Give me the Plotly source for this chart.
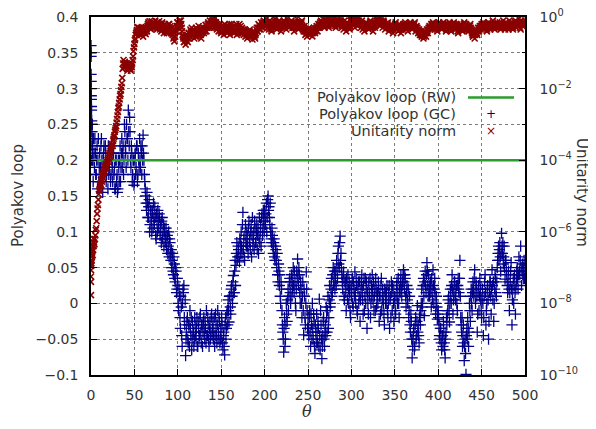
import numpy as np
import plotly.graph_objects as go

# ---------------- data ----------------
series_names = ["Polyakov loop (RW)", "Polyakov loop (GC)", "Unitarity norm"]

# Polyakov loop, RW (constant reference)
theta_rw = [0, 500]
polyakov_rw = [0.2, 0.2]

# Polyakov loop, GC: early transient near theta = 0
theta_gc_start = [0, 0, 0.1, 0.1, 0.2, 0.2, 0.3, 0.4, 0.5, 0.6, 0.8, 1.0, 1.2, 1.5, 1.8, 2.2]
polyakov_gc_start = [0.36, 0.35, 0.345, 0.32, 0.31, 0.30, 0.29, 0.285, 0.275, 0.27, 0.255,
                     0.25, 0.24, 0.23, 0.215, 0.2]

# Polyakov loop, GC: samples at integer theta, 0..500
theta_gc_a = list(range(0, 501))
polyakov_gc_a = [
    0.24, 0.22, 0.2, 0.23, 0.19, 0.21, 0.18, 0.22, 0.2, 0.17,
    0.21, 0.19, 0.23, 0.18, 0.2, 0.22, 0.19, 0.21, 0.18, 0.2,
    0.22, 0.19, 0.21, 0.18, 0.2, 0.17, 0.21, 0.19, 0.16, 0.2,
    0.18, 0.16, 0.19, 0.2, 0.17, 0.21, 0.19, 0.22, 0.2, 0.24,
    0.21, 0.25, 0.23, 0.27, 0.22, 0.24, 0.19, 0.21, 0.18, 0.2,
    0.17, 0.21, 0.19, 0.22, 0.18, 0.2, 0.23, 0.19, 0.21, 0.22,
    0.235, 0.2, 0.17, 0.15, 0.13, 0.14, 0.12, 0.145, 0.11, 0.13,
    0.1, 0.125, 0.14, 0.11, 0.12, 0.09, 0.115, 0.13, 0.105, 0.12,
    0.11, 0.085, 0.12, 0.1, 0.08, 0.105, 0.09, 0.075, 0.095, 0.08,
    0.065, 0.085, 0.06, 0.05, 0.07, 0.04, 0.055, 0.03, 0.045, 0.02,
    0.025, -0.01, 0.01, -0.035, -0.005, -0.06, 0.02, 0.025, -0.03, -0.073,
    -0.04, -0.02, -0.055, -0.03, -0.01, -0.045, -0.065, -0.025, -0.04, -0.05,
    -0.03, -0.05, -0.02, -0.06, -0.035, -0.045, -0.015, -0.055, -0.03, -0.04,
    -0.02, -0.05, -0.035, -0.01, -0.045, -0.03, -0.06, -0.025, -0.04, -0.015,
    -0.035, -0.05, -0.02, -0.045, -0.03, -0.055, -0.01, -0.04, -0.025, -0.05,
    -0.05, -0.03, -0.065, -0.04, -0.072, -0.02, -0.035, -0.01, 0.005, -0.026,
    0.01, -0.015, 0.025, 0.0, 0.039, 0.015, 0.06, 0.053, 0.085, 0.065,
    0.075, 0.058, 0.085, 0.1, 0.07, 0.127, 0.09, 0.06, 0.11, 0.08,
    0.095, 0.07, 0.115, 0.085, 0.1, 0.065, 0.12, 0.09, 0.075, 0.105,
    0.085, 0.11, 0.095, 0.07, 0.12, 0.1, 0.08, 0.125, 0.105, 0.115,
    0.13, 0.11, 0.14, 0.12, 0.15, 0.135, 0.11, 0.1, 0.085, 0.095,
    0.07, 0.09, 0.06, 0.075, 0.05, 0.04, 0.055, 0.025, 0.01, 0.03,
    -0.01, -0.04, -0.068, -0.02, -0.05, 0.0, -0.025, 0.02, 0.01, 0.035,
    0.0, 0.04, 0.02, 0.05, 0.015, 0.03, -0.01, 0.045, 0.062, 0.025,
    0.04, 0.0, 0.02, -0.02, 0.03, -0.044, 0.01, -0.03, 0.044, -0.01,
    -0.02, -0.045, -0.01, -0.06, -0.03, 0.0, -0.05, -0.025, -0.07, -0.04,
    -0.015, -0.055, -0.035, 0.006, -0.065, -0.03, -0.077, -0.045, -0.02, -0.06,
    -0.03, -0.005, -0.04, 0.01, -0.02, 0.025, 0.0, 0.035, 0.015, 0.05,
    0.03, 0.02, 0.045, 0.06, 0.035, 0.08, 0.05, 0.094, 0.07, 0.04,
    0.02, 0.044, 0.005, 0.03, -0.01, 0.025, 0.04, 0.0, 0.015, -0.02,
    0.01, 0.035, -0.005, 0.02, 0.044, 0.0, 0.025, -0.015, 0.03, 0.01,
    -0.025, 0.015, 0.04, 0.005, 0.025, -0.01, 0.035, 0.02, -0.035, 0.0,
    0.03, 0.01, -0.02, 0.025, 0.04, 0.005, -0.01, 0.02, 0.035, -0.005,
    0.015, 0.03, -0.025, 0.01, 0.025, -0.01, 0.02, 0.0, -0.03, 0.015,
    0.0, 0.025, -0.02, 0.015, -0.035, 0.01, 0.03, -0.01, 0.02, -0.025,
    0.005, -0.015, 0.025, 0.0, 0.035, -0.02, 0.015, 0.04, 0.01, 0.03,
    0.047, 0.02, 0.035, -0.005, 0.025, 0.0, -0.02, 0.01, -0.04, -0.025,
    -0.076, -0.05, -0.035, -0.06, -0.02, -0.045, -0.003, -0.03, -0.055, -0.015,
    -0.01, 0.02, 0.0, 0.035, -0.017, 0.045, 0.015, 0.057, 0.025, 0.04,
    0.01, 0.03, -0.005, 0.02, 0.047, 0.0, 0.035, -0.015, 0.01, -0.022,
    -0.01, -0.03, -0.05, -0.035, -0.065, -0.045, -0.025, -0.055, -0.076, -0.04,
    -0.03, -0.01, 0.01, -0.026, 0.02, 0.0, 0.04, -0.015, 0.015, 0.03,
    0.005, 0.025, -0.01, 0.035, 0.015, 0.06, -0.02, -0.04, -0.06, -0.03,
    -0.08, -0.05, -0.099, -0.035, -0.02, -0.06, 0.0, -0.025, 0.02, -0.01,
    0.03, 0.01, 0.047, 0.0, 0.025, -0.04, 0.015, -0.01, 0.035, 0.005,
    -0.02, 0.02, -0.045, 0.01, 0.04, -0.03, 0.0, 0.025, -0.05, 0.015,
    0.03, -0.015, 0.047, 0.005, -0.025, 0.02, 0.035, 0.01, 0.05, 0.07,
    0.06, 0.085, 0.045, 0.098, 0.07, 0.055, 0.08, 0.034, 0.06, 0.04,
    0.015, 0.045, -0.01, 0.03, 0.057, -0.03, 0.02, 0.0, 0.04, -0.015,
    0.03, 0.05, 0.02, 0.065, 0.04, 0.08, 0.025, 0.055, 0.035, 0.06,
    0.045,
]

# Polyakov loop, GC: samples at half-integer theta, 0.5..499.5
theta_gc_b = [k + 0.5 for k in range(500)]
polyakov_gc_b = [
    0.2, 0.25, 0.17, 0.21, 0.23, 0.18, 0.2, 0.16, 0.23, 0.19,
    0.17, 0.22, 0.2, 0.155, 0.21, 0.18, 0.22, 0.17, 0.2, 0.16,
    0.18, 0.21, 0.17, 0.22, 0.19, 0.21, 0.18, 0.16, 0.2, 0.17,
    0.155, 0.2, 0.17, 0.22, 0.19, 0.23, 0.21, 0.18, 0.25, 0.22,
    0.19, 0.23, 0.2, 0.24, 0.26, 0.2, 0.22, 0.17, 0.2, 0.165,
    0.2, 0.18, 0.22, 0.17, 0.21, 0.19, 0.2, 0.22, 0.18, 0.2,
    0.21, 0.18, 0.16, 0.14, 0.155, 0.12, 0.135, 0.1, 0.13, 0.115,
    0.13, 0.105, 0.12, 0.135, 0.095, 0.125, 0.1, 0.115, 0.125, 0.095,
    0.1, 0.115, 0.09, 0.11, 0.1, 0.085, 0.105, 0.09, 0.07, 0.1,
    0.09, 0.07, 0.075, 0.06, 0.045, 0.065, 0.035, 0.05, 0.015, 0.035,
    0.0, 0.02, -0.02, 0.01, -0.045, 0.0, 0.015, -0.02, 0.005, -0.05,
    -0.025, -0.05, -0.03, -0.06, -0.035, -0.02, -0.05, -0.04, -0.06, -0.02,
    -0.045, -0.035, -0.06, -0.025, -0.05, -0.02, -0.04, -0.03, -0.06, -0.025,
    -0.04, -0.025, -0.055, -0.045, -0.02, -0.05, -0.035, -0.05, -0.02, -0.045,
    -0.025, -0.04, -0.06, -0.015, -0.045, -0.03, -0.05, -0.02, -0.055, -0.035,
    -0.02, -0.055, -0.045, -0.06, -0.03, -0.05, -0.015, -0.03, -0.01, 0.01,
    -0.005, 0.02, 0.01, 0.03, 0.015, 0.045, 0.025, 0.07, 0.06, 0.08,
    0.065, 0.09, 0.07, 0.08, 0.11, 0.075, 0.065, 0.095, 0.085, 0.1,
    0.08, 0.105, 0.09, 0.075, 0.11, 0.095, 0.08, 0.1, 0.115, 0.085,
    0.1, 0.075, 0.105, 0.09, 0.085, 0.11, 0.12, 0.095, 0.13, 0.1,
    0.115, 0.125, 0.1, 0.145, 0.13, 0.12, 0.14, 0.09, 0.105, 0.08,
    0.085, 0.065, 0.08, 0.06, 0.07, 0.03, 0.045, 0.04, 0.0, 0.02,
    -0.03, -0.05, -0.035, -0.06, -0.03, -0.015, 0.005, -0.01, 0.03, 0.015,
    0.03, 0.01, 0.035, 0.025, 0.045, 0.0, 0.02, 0.035, 0.04, 0.05,
    0.015, 0.03, 0.0, 0.01, -0.01, 0.02, -0.02, 0.0, 0.02, -0.035,
    -0.035, -0.02, -0.04, -0.015, -0.05, -0.035, -0.015, -0.06, -0.03, -0.055,
    -0.04, -0.025, -0.06, -0.045, -0.01, -0.05, -0.06, -0.025, -0.05, -0.04,
    -0.045, -0.02, -0.01, -0.035, 0.005, -0.005, 0.02, 0.01, 0.04, 0.025,
    0.045, 0.035, 0.025, 0.05, 0.07, 0.055, 0.085, 0.06, 0.05, 0.03,
    0.035, 0.01, 0.03, 0.015, 0.035, 0.005, 0.02, 0.03, -0.01, 0.025,
    0.02, 0.0, 0.03, 0.01, 0.015, 0.035, -0.01, 0.02, 0.0, 0.03,
    0.005, 0.03, 0.02, -0.015, 0.035, 0.01, 0.0, 0.03, 0.015, -0.015,
    0.015, 0.035, 0.0, 0.01, 0.02, 0.03, 0.01, -0.01, 0.02, 0.01,
    0.0, 0.02, 0.01, -0.015, 0.035, 0.005, 0.01, -0.015, 0.02, 0.0,
    0.015, -0.01, 0.0, 0.025, 0.005, -0.02, 0.015, 0.025, 0.0, 0.01,
    -0.01, 0.01, 0.03, 0.015, 0.0, 0.02, 0.03, 0.02, 0.025, 0.04,
    0.03, 0.04, 0.01, 0.015, 0.005, 0.02, -0.01, -0.03, -0.015, -0.05,
    -0.06, -0.04, -0.065, -0.03, -0.05, -0.025, -0.04, -0.045, -0.02, -0.03,
    0.0, -0.005, 0.025, 0.01, 0.03, 0.025, 0.04, 0.045, 0.01, 0.02,
    0.025, 0.015, 0.035, 0.005, 0.025, 0.02, 0.015, 0.0, -0.005, -0.015,
    -0.02, -0.045, -0.035, -0.055, -0.045, -0.06, -0.04, -0.065, -0.05, -0.02,
    -0.015, 0.005, -0.01, 0.0, 0.01, 0.025, 0.02, 0.005, 0.03, 0.01,
    0.02, 0.0, 0.025, 0.02, 0.035, 0.01, -0.03, -0.02, -0.045, -0.055,
    -0.06, -0.07, -0.045, -0.05, -0.035, -0.04, -0.01, 0.01, 0.0, 0.015,
    0.02, 0.035, 0.015, 0.03, 0.01, -0.015, 0.025, 0.01, 0.02, -0.01,
    0.005, 0.0, -0.02, 0.03, 0.015, -0.01, 0.02, 0.005, -0.025, 0.03,
    0.01, 0.02, 0.025, 0.03, 0.0, 0.04, 0.015, 0.03, 0.06, 0.08,
    0.075, 0.065, 0.07, 0.08, 0.085, 0.065, 0.05, 0.06, 0.045, 0.025,
    0.03, 0.02, 0.015, 0.045, 0.02, 0.005, 0.035, 0.025, 0.015, 0.02,
    0.045, 0.035, 0.04, 0.045, 0.06, 0.05, 0.045, 0.04, 0.05, 0.035,
]

# Unitarity norm, given as log10 of the norm
theta_un_start = [0, 0, 0, 0, 0.2, 0.4, 0.6, 0.8, 1.0, 1.5, 2.0, 2.5, 3.0]
unitarity_start_log10 = [-7.77, -7.4, -7.25, -7.07, -6.95, -6.87, -6.8, -6.7, -6.6, -6.5,
                         -6.4, -6.3, -6.2]
theta_un_a = list(range(0, 501))
unitarity_log10_a = [
    -6.9, -6.7, -6.65, -6.4, -6.35, -6.1, -5.9, -5.5, -5.25, -4.95,
    -4.8, -4.65, -4.7, -4.45, -4.5, -4.3, -4.35, -4.15, -4.2, -4.0,
    -4.05, -3.85, -3.9, -3.7, -3.55, -3.6, -3.4, -3.3, -3.15, -3.05,
    -2.85, -2.65, -2.5, -2.3, -2.15, -1.95, -1.7, -1.3, -1.4, -1.25,
    -1.4, -1.3, -1.5, -1.35, -1.45, -1.3, -1.5, -1.4, -1.2, -0.95,
    -0.75, -0.6, -0.45, -0.36, -0.3, -0.45, -0.35, -0.5, -0.3, -0.42,
    -0.55, -0.4, -0.3, -0.48, -0.35, -0.25, -0.15, -0.3, -0.2, -0.35,
    -0.12, -0.25, -0.18, -0.3, -0.1, -0.22, -0.35, -0.15, -0.28, -0.2,
    -0.25, -0.4, -0.15, -0.3, -0.45, -0.2, -0.35, -0.28, -0.42, -0.3,
    -0.2, -0.35, -0.45, -0.3, -0.5, -0.6, -0.68, -0.55, -0.4, -0.25,
    -0.15, -0.3, -0.1, -0.25, -0.2, -0.4, -0.55, -0.7, -0.6, -0.77,
    -0.65, -0.5, -0.6, -0.45, -0.55, -0.4, -0.3, -0.5, -0.35, -0.6,
    -0.45, -0.3, -0.55, -0.4, -0.25, -0.5, -0.35, -0.6, -0.42, -0.3,
    -0.45, -0.35, -0.22, -0.4, -0.3, -0.15, -0.25, -0.1, -0.3, -0.2,
    -0.05, -0.2, -0.3, -0.03, -0.15, -0.35, -0.25, -0.4, -0.2, -0.3,
    -0.45, -0.25, -0.35, -0.5, -0.2, -0.4, -0.3, -0.45, -0.25, -0.35,
    -0.5, -0.3, -0.2, -0.4, -0.3, -0.45, -0.25, -0.35, -0.5, -0.3,
    -0.4, -0.2, -0.35, -0.45, -0.3, -0.4, -0.5, -0.35, -0.55, -0.45,
    -0.6, -0.4, -0.5, -0.35, -0.55, -0.45, -0.63, -0.5, -0.4, -0.6,
    -0.45, -0.3, -0.4, -0.2, -0.35, -0.25, -0.15, -0.3, -0.2, -0.1,
    -0.25, -0.15, -0.05, -0.3, -0.2, -0.35, -0.1, -0.25, -0.4, -0.15,
    -0.3, -0.2, -0.05, -0.25, -0.35, -0.15, -0.3, -0.1, -0.2, -0.4,
    -0.2, -0.3, -0.1, -0.25, -0.15, -0.35, -0.05, -0.2, -0.3, -0.15,
    -0.25, -0.1, -0.3, -0.2, -0.4, -0.15, -0.3, -0.05, -0.25, -0.35,
    -0.15, -0.3, -0.2, -0.1, -0.35, -0.4, -0.25, -0.5, -0.35, -0.55,
    -0.4, -0.3, -0.5, -0.45, -0.35, -0.54, -0.4, -0.3, -0.45, -0.35,
    -0.25, -0.4, -0.2, -0.3, -0.15, -0.1, -0.25, -0.05, -0.2, -0.3,
    -0.1, -0.2, 0.0, -0.15, -0.3, -0.05, -0.2, -0.1, -0.25, -0.15,
    -0.05, -0.2, -0.3, -0.1, -0.15, -0.25, 0.0, -0.2, -0.1, -0.3,
    -0.2, -0.35, -0.1, -0.25, -0.4, -0.15, -0.3, -0.2, -0.35, -0.1,
    -0.05, -0.2, 0.0, -0.15, -0.3, -0.1, 0.0, -0.25, -0.05, -0.2,
    -0.15, -0.3, -0.1, -0.35, -0.2, -0.4, -0.25, -0.15, -0.3, -0.2,
    -0.35, -0.2, -0.1, -0.3, -0.25, -0.4, -0.15, -0.3, -0.2, -0.1,
    -0.05, -0.2, -0.1, -0.25, 0.0, -0.15, -0.3, -0.1, -0.2, -0.35,
    -0.2, -0.3, -0.15, -0.4, -0.25, -0.35, -0.2, -0.3, -0.45, -0.25,
    -0.3, -0.15, -0.35, -0.25, -0.4, -0.2, -0.3, -0.45, -0.25, -0.35,
    -0.2, -0.3, -0.15, -0.35, -0.25, -0.4, -0.2, -0.3, -0.15, -0.25,
    -0.35, -0.2, -0.3, -0.15, -0.4, -0.25, -0.3, -0.45, -0.35, -0.5,
    -0.4, -0.55, -0.45, -0.6, -0.5, -0.4, -0.55, -0.35, -0.45, -0.3,
    -0.25, -0.35, -0.2, -0.3, -0.15, -0.25, -0.35, -0.2, -0.3, -0.4,
    -0.25, -0.15, -0.3, -0.2, -0.35, -0.25, -0.15, -0.3, -0.2, -0.4,
    -0.3, -0.2, -0.35, -0.15, -0.25, -0.4, -0.2, -0.3, -0.15, -0.25,
    -0.35, -0.2, -0.3, -0.45, -0.25, -0.35, -0.2, -0.3, -0.4, -0.25,
    -0.15, -0.3, -0.2, -0.35, -0.25, -0.4, -0.3, -0.2, -0.35, -0.45,
    -0.55, -0.4, -0.6, -0.45, -0.35, -0.5, -0.3, -0.4, -0.25, -0.35,
    -0.2, -0.3, -0.15, -0.35, -0.25, -0.2, -0.4, -0.3, -0.15, -0.25,
    -0.35, -0.2, -0.3, -0.1, -0.25, -0.35, -0.2, -0.3, -0.15, -0.25,
    -0.3, -0.15, -0.35, -0.2, -0.3, -0.1, -0.25, -0.35, -0.15, -0.3,
    -0.2, -0.35, -0.1, -0.25, -0.3, -0.15, -0.35, -0.2, -0.25, -0.1,
    -0.3, -0.15, -0.25, -0.05, -0.2, -0.35, -0.1, -0.25, -0.15, -0.2,
    -0.1,
]
theta_un_b = [k + 0.5 for k in range(500)]
unitarity_log10_b = [
    -6.8, -6.55, -6.5, -6.3, -6.2, -5.95, -5.7, -5.35, -5.1, -4.85,
    -4.7, -4.55, -4.6, -4.4, -4.35, -4.25, -4.2, -4.1, -4.05, -3.95,
    -3.95, -3.8, -3.75, -3.6, -3.6, -3.45, -3.35, -3.2, -3.1, -2.95,
    -2.75, -2.55, -2.4, -2.2, -2.05, -1.85, -1.45, -1.2, -1.3, -1.35,
    -1.3, -1.45, -1.35, -1.4, -1.3, -1.45, -1.35, -1.3, -1.1, -0.85,
    -0.65, -0.5, -0.4, -0.28, -0.4, -0.3, -0.45, -0.35, -0.5, -0.35,
    -0.45, -0.32, -0.42, -0.28, -0.4, -0.2, -0.25, -0.12, -0.3, -0.2,
    -0.2, -0.15, -0.3, -0.2, -0.25, -0.3, -0.2, -0.3, -0.12, -0.35,
    -0.3, -0.2, -0.35, -0.25, -0.3, -0.4, -0.25, -0.45, -0.3, -0.2,
    -0.3, -0.25, -0.35, -0.45, -0.4, -0.55, -0.45, -0.35, -0.3, -0.15,
    -0.25, -0.2, -0.2, -0.1, -0.3, -0.5, -0.6, -0.55, -0.68, -0.6,
    -0.55, -0.7, -0.45, -0.6, -0.35, -0.5, -0.45, -0.4, -0.5, -0.45,
    -0.55, -0.4, -0.35, -0.5, -0.4, -0.35, -0.5, -0.45, -0.35, -0.4,
    -0.3, -0.4, -0.3, -0.25, -0.2, -0.3, -0.2, -0.25, -0.15, -0.1,
    -0.15, -0.1, -0.15, -0.2, -0.3, -0.2, -0.3, -0.25, -0.35, -0.4,
    -0.3, -0.4, -0.25, -0.35, -0.3, -0.25, -0.4, -0.35, -0.4, -0.2,
    -0.4, -0.35, -0.3, -0.25, -0.4, -0.35, -0.4, -0.2, -0.4, -0.45,
    -0.3, -0.4, -0.25, -0.35, -0.45, -0.35, -0.4, -0.45, -0.4, -0.5,
    -0.5, -0.55, -0.4, -0.45, -0.5, -0.55, -0.5, -0.45, -0.55, -0.5,
    -0.35, -0.4, -0.3, -0.3, -0.25, -0.35, -0.25, -0.2, -0.15, -0.25,
    -0.2, -0.25, -0.15, -0.2, -0.3, -0.2, -0.2, -0.35, -0.25, -0.3,
    -0.2, -0.1, -0.15, -0.3, -0.25, -0.2, -0.2, -0.3, -0.3, -0.25,
    -0.25, -0.2, -0.15, -0.2, -0.25, -0.2, -0.15, -0.25, -0.2, -0.25,
    -0.15, -0.2, -0.25, -0.3, -0.25, -0.2, -0.15, -0.2, -0.3, -0.25,
    -0.25, -0.2, -0.15, -0.25, -0.3, -0.35, -0.4, -0.4, -0.45, -0.45,
    -0.35, -0.4, -0.45, -0.4, -0.45, -0.45, -0.35, -0.4, -0.4, -0.3,
    -0.3, -0.3, -0.25, -0.2, -0.25, -0.15, -0.15, -0.15, -0.25, -0.2,
    -0.15, -0.1, -0.1, -0.25, -0.15, -0.15, -0.15, -0.2, -0.2, -0.1,
    -0.15, -0.25, -0.2, -0.15, -0.2, -0.1, -0.1, -0.15, -0.2, -0.25,
    -0.25, -0.25, -0.2, -0.3, -0.25, -0.25, -0.25, -0.3, -0.25, -0.1,
    -0.1, -0.1, -0.1, -0.2, -0.2, -0.05, -0.15, -0.15, -0.1, -0.15,
    -0.2, -0.2, -0.25, -0.25, -0.3, -0.3, -0.2, -0.2, -0.25, -0.25,
    -0.25, -0.15, -0.2, -0.3, -0.3, -0.25, -0.2, -0.25, -0.15, -0.1,
    -0.1, -0.15, -0.15, -0.1, -0.1, -0.2, -0.2, -0.15, -0.25, -0.25,
    -0.25, -0.2, -0.3, -0.3, -0.3, -0.25, -0.25, -0.35, -0.35, -0.3,
    -0.2, -0.25, -0.3, -0.3, -0.3, -0.25, -0.35, -0.35, -0.3, -0.25,
    -0.25, -0.2, -0.25, -0.3, -0.3, -0.3, -0.25, -0.2, -0.2, -0.3,
    -0.25, -0.25, -0.2, -0.3, -0.3, -0.3, -0.35, -0.4, -0.4, -0.45,
    -0.5, -0.5, -0.5, -0.55, -0.45, -0.45, -0.45, -0.4, -0.35, -0.3,
    -0.3, -0.3, -0.25, -0.2, -0.2, -0.3, -0.25, -0.25, -0.35, -0.3,
    -0.2, -0.25, -0.25, -0.3, -0.3, -0.2, -0.25, -0.25, -0.3, -0.35,
    -0.25, -0.3, -0.25, -0.2, -0.35, -0.3, -0.25, -0.2, -0.2, -0.3,
    -0.3, -0.25, -0.4, -0.35, -0.3, -0.25, -0.25, -0.35, -0.3, -0.2,
    -0.25, -0.25, -0.3, -0.3, -0.35, -0.35, -0.25, -0.3, -0.4, -0.5,
    -0.45, -0.5, -0.5, -0.4, -0.45, -0.4, -0.35, -0.3, -0.3, -0.25,
    -0.25, -0.2, -0.25, -0.3, -0.2, -0.3, -0.35, -0.2, -0.2, -0.3,
    -0.25, -0.25, -0.2, -0.2, -0.3, -0.25, -0.25, -0.2, -0.2, -0.3,
    -0.2, -0.25, -0.3, -0.25, -0.2, -0.2, -0.3, -0.25, -0.2, -0.25,
    -0.3, -0.2, -0.2, -0.3, -0.2, -0.25, -0.3, -0.2, -0.15, -0.2,
    -0.2, -0.2, -0.15, -0.15, -0.3, -0.2, -0.2, -0.2, -0.15, -0.15,
]

# tick labels
x_tickvals = [0, 50, 100, 150, 200, 250, 300, 350, 400, 450, 500]
x_ticktext = ["0", "50", "100", "150", "200", "250", "300", "350", "400", "450", "500"]
y_tickvals = [-0.1, -0.05, 0, 0.05, 0.1, 0.15, 0.2, 0.25, 0.3, 0.35, 0.4]
y_ticktext = ["\u22120.1", "\u22120.05", "0", "0.05", "0.1", "0.15", "0.2", "0.25", "0.3", "0.35", "0.4"]
y2_tickvals = [1e-10, 1e-8, 1e-6, 1e-4, 1e-2, 1e0]
y2_ticktext = ["10<sup>\u221210</sup>", "10<sup>\u22128</sup>", "10<sup>\u22126</sup>",
               "10<sup>\u22124</sup>", "10<sup>\u22122</sup>", "10<sup>0</sup>"]
y2_minor_tickvals = [1e-9, 1e-7, 1e-5, 1e-3, 1e-1]

# ---------------- styling ----------------
FONT = "DejaVu Sans"
TXT = "#333333"
BLUE = "#00008b"
RED = "#8b0000"
GREEN = "#2a9d2a"

fig = go.Figure()

gc_marker = dict(symbol="cross-thin", size=8, line=dict(color=BLUE, width=1.3), color=BLUE)
fig.add_trace(go.Scatter(
    x=theta_gc_start + theta_gc_a + theta_gc_b,
    y=polyakov_gc_start + polyakov_gc_a + polyakov_gc_b,
    mode="markers", name=series_names[1], marker=gc_marker,
    yaxis="y", showlegend=False, cliponaxis=True,
))
fig.add_trace(go.Scatter(
    x=theta_rw, y=polyakov_rw, mode="lines", name=series_names[0],
    line=dict(color=GREEN, width=2.5), yaxis="y", showlegend=False,
))
un_x = theta_un_start + theta_un_a + theta_un_b
un_y = [10.0 ** v for v in unitarity_start_log10 + unitarity_log10_a + unitarity_log10_b]
fig.add_trace(go.Scatter(
    x=un_x, y=un_y, mode="markers", name=series_names[2],
    marker=dict(symbol="x-thin", size=6, line=dict(color=RED, width=1.6), color=RED),
    yaxis="y2", showlegend=False, cliponaxis=True,
))

# geometry: the page shows the figure offset by the body margin (8 px)
OFF = 8
W, H = 588, 421
L, R, T, B = 83, 71, 9, 54
pw, ph = W - L - R, H - T - B


def px(sx):  # screen x -> paper x
    return (sx - OFF - L) / pw


def py(sy):  # screen y -> paper y
    return (H - B - (sy - OFF)) / ph


axis_common = dict(
    showline=True, linecolor="black", linewidth=1.5,
    ticks="inside", ticklen=6, tickcolor="black", tickwidth=1,
    tickfont=dict(family=FONT, size=14, color=TXT),
    showgrid=True, gridcolor="#7a7a7a", griddash="dot", gridwidth=1,
    zeroline=False, automargin=False, ticklabeloverflow="allow",
)

fig.update_layout(
    width=W, height=H,
    margin=dict(l=L, r=R, t=T, b=B, pad=0, autoexpand=False),
    paper_bgcolor="white", plot_bgcolor="white",
    font=dict(family=FONT, size=14, color=TXT),
    showlegend=False,
    xaxis=dict(axis_common, range=[0, 500], tickvals=x_tickvals, ticktext=x_ticktext,
               mirror="ticks", ticklabelstandoff=6),
    yaxis=dict(axis_common, range=[-0.1, 0.4], tickvals=y_tickvals, ticktext=y_ticktext,
               mirror=False, ticklabelstandoff=8),
    yaxis2=dict(axis_common, type="log", range=[-10, 0], overlaying="y", side="right",
                tickvals=y2_tickvals, ticktext=y2_ticktext, showgrid=False,
                ticklabelstandoff=10,
                minor=dict(ticks="inside", ticklen=3, tickcolor="black",
                           tickvals=y2_minor_tickvals, showgrid=False)),
)

# legend backdrop (opaque key box, as in the reference)
fig.add_shape(type="rect", xref="paper", yref="paper",
              x0=px(308), x1=px(519), y0=py(140), y1=py(88),
              fillcolor="white", line=dict(width=0), layer="between")
# legend sample line
fig.add_shape(type="line", xref="paper", yref="paper",
              x0=px(468), x1=px(514), y0=py(97.5), y1=py(97.5),
              line=dict(color=GREEN, width=2.5))

legend_y = [97, 114, 131]
for name, yy in zip(series_names, legend_y):
    fig.add_annotation(xref="paper", yref="paper", x=px(458), y=py(yy),
                       text=name, showarrow=False, xanchor="right", yanchor="middle",
                       font=dict(family=FONT, size=14.5, color=TXT))
fig.add_annotation(xref="paper", yref="paper", x=px(491), y=py(114.5), text="+",
                   showarrow=False, xanchor="center", yanchor="middle",
                   font=dict(family=FONT, size=12, color=BLUE))
fig.add_annotation(xref="paper", yref="paper", x=px(491), y=py(131.5), text="\u00d7",
                   showarrow=False, xanchor="center", yanchor="middle",
                   font=dict(family=FONT, size=12, color=RED))

# axis titles
fig.add_annotation(xref="paper", yref="paper", x=px(18), y=py(196), text="Polyakov loop",
                   textangle=-90, showarrow=False, xanchor="center", yanchor="middle",
                   font=dict(family=FONT, size=15, color=TXT))
fig.add_annotation(xref="paper", yref="paper", x=px(582), y=py(192), text="Unitarity norm",
                   textangle=90, showarrow=False, xanchor="center", yanchor="middle",
                   font=dict(family=FONT, size=15, color=TXT))
fig.add_annotation(xref="paper", yref="paper", x=px(307), y=py(411), text="<i>\u03b8</i>",
                   showarrow=False, xanchor="center", yanchor="middle",
                   font=dict(family="DejaVu Serif", size=16, color=TXT))

fig.write_html("out.html")
